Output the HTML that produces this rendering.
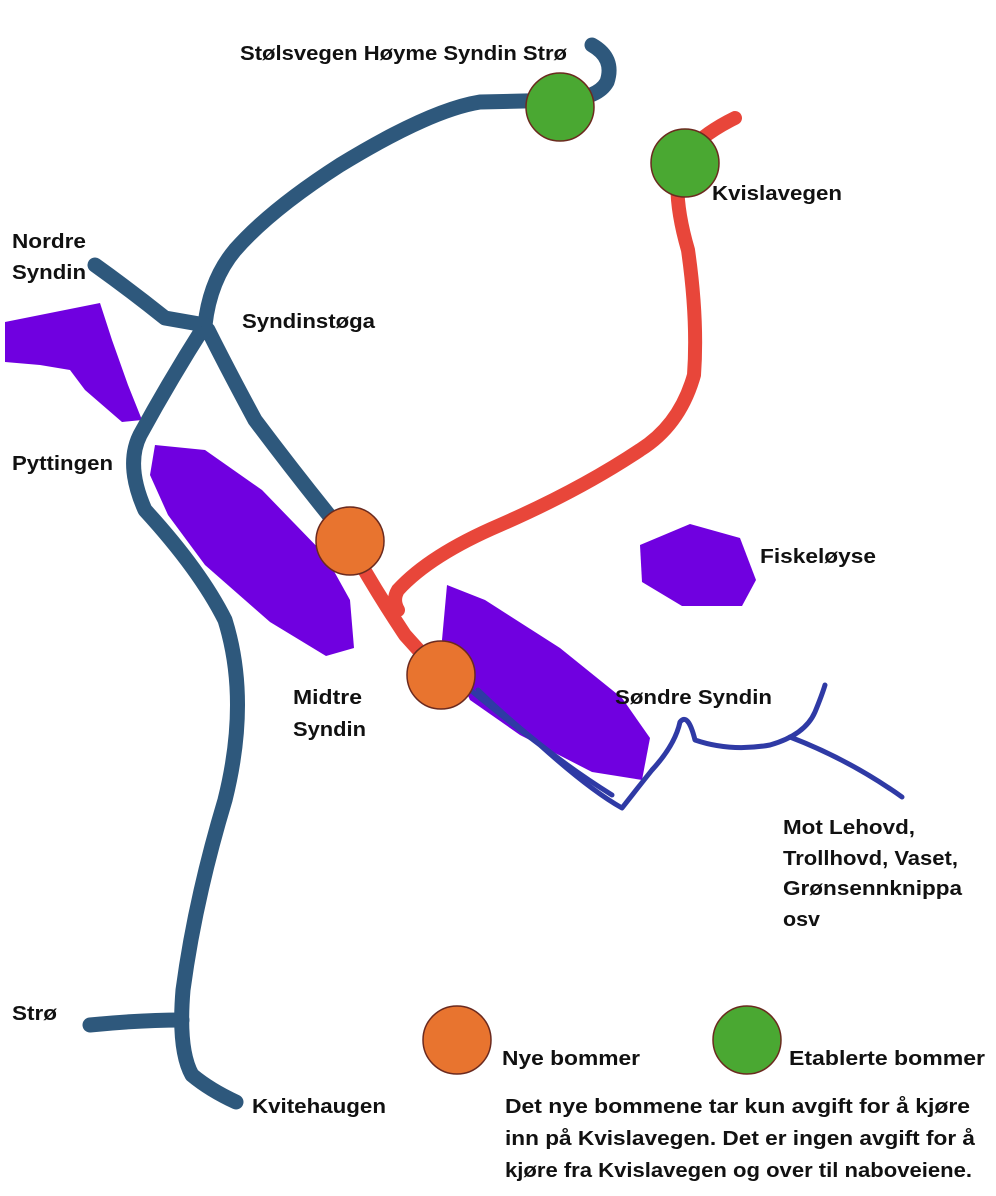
<!DOCTYPE html>
<html><head><meta charset="utf-8"><style>
html,body{margin:0;padding:0;background:#fff;}
svg{display:block;}
text{font-family:"Liberation Sans",sans-serif;font-weight:bold;font-size:20px;fill:#111;}
</style></head><body>
<svg width="996" height="1196" viewBox="0 0 996 1196" xmlns="http://www.w3.org/2000/svg">
<g fill="#7000e0">
<path d="M5,322 L55,312 L100,303 L112,340 L128,385 L142,420 L122,422 L85,390 L70,370 L40,365 L5,362 Z"/>
<path d="M155,445 L205,450 L262,490 L325,555 L350,600 L354,648 L326,656 L270,622 L205,565 L168,515 L150,475 Z"/>
<path d="M447,585 L485,600 L560,648 L622,698 L650,738 L642,780 L592,772 L520,735 L470,700 L442,640 Z"/>
<path d="M640,545 L690,524 L740,538 L756,580 L742,606 L682,606 L642,582 Z"/>
</g>
<g fill="none" stroke="#2e587c" stroke-width="15" stroke-linecap="round" stroke-linejoin="round">
<path d="M592,45 Q615,58 607,82 Q598,98 565,100 L480,102 Q430,110 340,165 Q270,210 235,250 Q210,280 205,325"/>
<path d="M205,325 Q170,380 140,435 Q125,465 145,510 Q200,570 225,620 Q250,700 225,800 Q195,900 183,990 Q178,1050 192,1075 Q210,1090 236,1102"/>
<path d="M90,1025 Q140,1020 182,1020"/>
<path d="M95,265 Q130,290 165,318 L205,325"/>
<path d="M208,330 Q228,370 255,420 Q300,480 345,535"/>
</g>
<g fill="none" stroke="#e8463a" stroke-width="14" stroke-linecap="round" stroke-linejoin="round">
<path d="M350,545 Q375,590 405,635 L442,676"/>
<path d="M735,118 Q700,135 680,160 Q672,195 688,250 Q698,320 694,375 Q680,425 640,450 Q580,490 500,525 Q430,555 398,590 Q392,600 398,610"/>
</g>
<g fill="none" stroke="#2f3aa5" stroke-width="5" stroke-linecap="round" stroke-linejoin="round">
<path d="M468,688 Q500,715 540,745 Q590,790 622,808 Q640,785 652,770 Q675,745 680,722 Q688,712 695,740 Q730,752 770,745 Q805,735 815,712 Q822,695 825,685"/>
<path d="M790,737 Q850,760 902,797"/>
<path d="M478,690 Q540,750 612,795"/>
</g>
<g stroke="#6b2a1f" stroke-width="1.5">
<circle cx="560" cy="107" r="34" fill="#4aa832"/>
<circle cx="685" cy="163" r="34" fill="#4aa832"/>
<circle cx="350" cy="541" r="34" fill="#e8742f"/>
<circle cx="441" cy="675" r="34" fill="#e8742f"/>
<circle cx="457" cy="1040" r="34" fill="#e8742f"/>
<circle cx="747" cy="1040" r="34" fill="#4aa832"/>
</g>
<g>
<text x="240" y="60" textLength="327" lengthAdjust="spacingAndGlyphs">Stølsvegen Høyme Syndin Strø</text>
<text x="712" y="200" textLength="130" lengthAdjust="spacingAndGlyphs">Kvislavegen</text>
<text x="12" y="248" textLength="74" lengthAdjust="spacingAndGlyphs">Nordre</text>
<text x="12" y="279" textLength="74" lengthAdjust="spacingAndGlyphs">Syndin</text>
<text x="242" y="328" textLength="133" lengthAdjust="spacingAndGlyphs">Syndinstøga</text>
<text x="12" y="470" textLength="101" lengthAdjust="spacingAndGlyphs">Pyttingen</text>
<text x="760" y="563" textLength="116" lengthAdjust="spacingAndGlyphs">Fiskeløyse</text>
<text x="293" y="704" textLength="69" lengthAdjust="spacingAndGlyphs">Midtre</text>
<text x="293" y="736" textLength="73" lengthAdjust="spacingAndGlyphs">Syndin</text>
<text x="615" y="704" textLength="157" lengthAdjust="spacingAndGlyphs">Søndre Syndin</text>
<text x="783" y="834" textLength="132" lengthAdjust="spacingAndGlyphs">Mot Lehovd,</text>
<text x="783" y="865" textLength="175" lengthAdjust="spacingAndGlyphs">Trollhovd, Vaset,</text>
<text x="783" y="895" textLength="179" lengthAdjust="spacingAndGlyphs">Grønsennknippa</text>
<text x="783" y="926" textLength="37" lengthAdjust="spacingAndGlyphs">osv</text>
<text x="12" y="1020" textLength="45" lengthAdjust="spacingAndGlyphs">Strø</text>
<text x="252" y="1113" textLength="134" lengthAdjust="spacingAndGlyphs">Kvitehaugen</text>
<text x="502" y="1065" textLength="138" lengthAdjust="spacingAndGlyphs">Nye bommer</text>
<text x="789" y="1065" textLength="196" lengthAdjust="spacingAndGlyphs">Etablerte bommer</text>
<text x="505" y="1113" textLength="465" lengthAdjust="spacingAndGlyphs">Det nye bommene tar kun avgift for å kjøre</text>
<text x="505" y="1145" textLength="470" lengthAdjust="spacingAndGlyphs">inn på Kvislavegen. Det er ingen avgift for å</text>
<text x="505" y="1177" textLength="467" lengthAdjust="spacingAndGlyphs">kjøre fra Kvislavegen og over til naboveiene.</text>
</g>
</svg>
</body></html>
